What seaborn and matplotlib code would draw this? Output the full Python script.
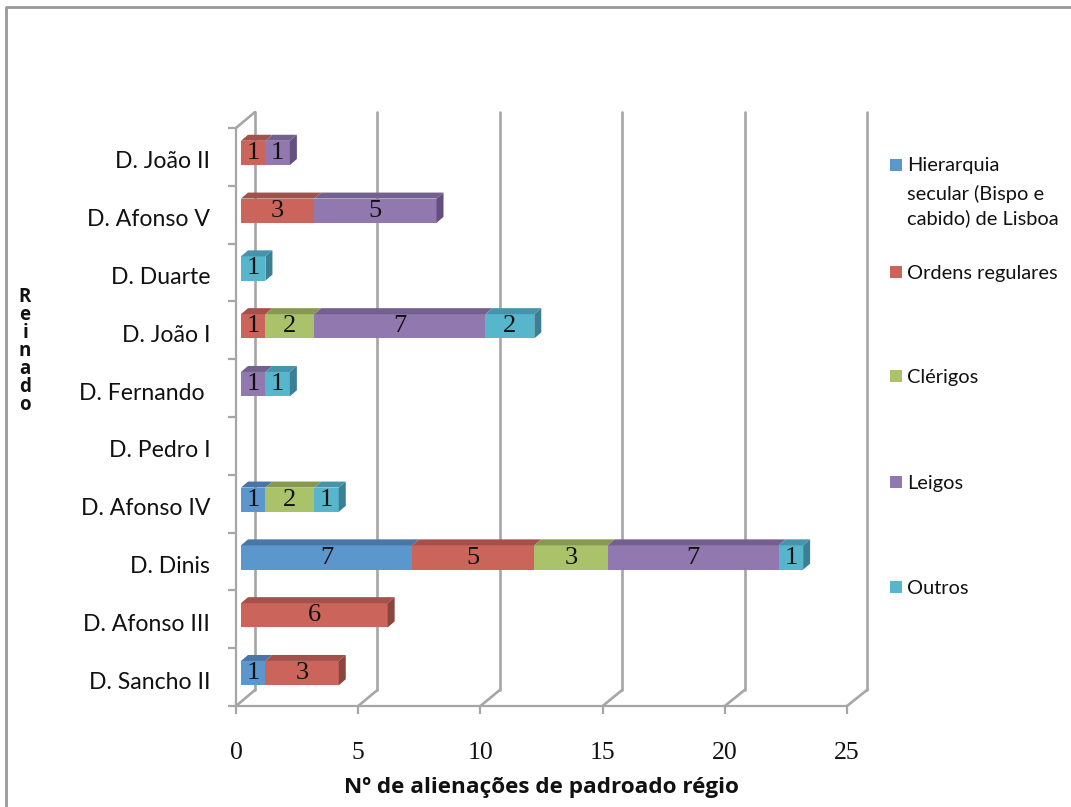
import numpy as np
import pandas as pd
import matplotlib
matplotlib.use("Agg")
import matplotlib.pyplot as plt
import seaborn as sns
from matplotlib.lines import Line2D
from matplotlib.patches import ConnectionPatch, Rectangle
from matplotlib.transforms import ScaledTranslation

reinados = ["D. João II", "D. Afonso V", "D. Duarte", "D. João I", "D. Fernando ",
            "D. Pedro I", "D. Afonso IV", "D. Dinis", "D. Afonso III", "D. Sancho II"]
hierarquia = [0, 0, 0, 0, 0, 0, 1, 7, 0, 1]
ordens = [1, 3, 0, 1, 0, 0, 0, 5, 6, 3]
clerigos = [0, 0, 0, 2, 0, 0, 2, 3, 0, 0]
leigos = [1, 5, 0, 7, 1, 0, 0, 7, 0, 0]
outros = [0, 0, 1, 2, 1, 0, 1, 1, 0, 0]
x_ticks = [0, 5, 10, 15, 20, 25]

series_names = ["Hierarquia\nsecular (Bispo e\ncabido) de Lisboa", "Ordens regulares",
                "Clérigos", "Leigos", "Outros"]
series_values = [hierarquia, ordens, clerigos, leigos, outros]
colors = ["#5b96cc", "#cb655c", "#aac26a", "#9178ae", "#58b6cc"]
top_colors = ["#4a76a6", "#a5504a", "#87994f", "#74608f", "#4594ab"]
side_colors = ["#3d6288", "#8c443e", "#70803f", "#635080", "#3a8094"]

W, H = 1071, 807
GREY = "#a6a6a6"
SANS = "Lato"
SERIF = "Liberation Serif"


def axes_px(fig, left, top, right, bottom):
    # axes from pixel box, y counted from top of the image
    return fig.add_axes([left / W, 1 - bottom / H, (right - left) / W, (bottom - top) / H])


sns.set_theme(style="white")
fig = plt.figure(figsize=(W / 100, H / 100), dpi=100, facecolor="white")

# back wall with the vertical gridlines
back = axes_px(fig, 255, 112, 867, 690)
back.set_xlim(0, 25)
back.set_ylim(9.5, -0.5)
back.set_xticks(x_ticks)
back.set_yticks([])
back.tick_params(labelbottom=False, length=0)
back.grid(axis="x", color=GREY, lw=1.9)
for gl in back.get_xgridlines():
    gl.set_clip_on(False)
back.patch.set_alpha(0)
sns.despine(ax=back, left=True, bottom=True)

# front plane, carries the axes and the labels
front = axes_px(fig, 236, 128, 847, 706)
front.set_xlim(0, 25)
front.set_ylim(9.5, -0.5)
front.patch.set_alpha(0)
sns.despine(ax=front)
for s in ["left", "bottom"]:
    front.spines[s].set_color(GREY)
    front.spines[s].set_linewidth(1.6)
front.set_xticks(x_ticks)
front.set_xticklabels([str(t) for t in x_ticks], family=SERIF, fontsize=18.5, color="#111111")
front.set_yticks(np.arange(-0.5, 10))
front.set_yticklabels([])
front.set_yticks(np.arange(10), labels=reinados, minor=True, family=SANS, fontsize=16.6,
                 color="#111111")
front.tick_params(axis="both", which="major", length=5.8, width=1.6, color=GREY, bottom=True,
                  left=True)
front.tick_params(axis="x", pad=20)
front.tick_params(axis="y", which="minor", length=0, pad=18.5)
shift = ScaledTranslation(0, -3 / 100, fig.dpi_scale_trans)
for lab in front.get_yticklabels(minor=True):
    lab.set_transform(lab.get_transform() + shift)
front.set_xlabel("Nº de alienações de padroado régio", family="Open Sans", fontweight="bold",
                 fontsize=16.2, color="#111111")
front.xaxis.set_label_coords((541 - 236) / 611, -(787 - 706) / 578, transform=front.transAxes)
front.xaxis.label.set_verticalalignment("center")
fig.text(25 / W, 1 - 351 / H, "\n".join("Reinado"), family="Open Sans", fontweight="bold",
         fontsize=13.5, ha="center", va="center", linespacing=0.87, color="#111111")

# joins between front plane and back wall
for t in x_ticks:
    fig.add_artist(ConnectionPatch((t, 9.5), (t, 9.5), coordsA=front.transData,
                                   coordsB=back.transData, color=GREY, lw=1.9))
fig.add_artist(ConnectionPatch((0, -0.5), (0, -0.5), coordsA=front.transData,
                               coordsB=back.transData, color=GREY, lw=1.9))

# the bars, slightly inside the box
bars = axes_px(fig, 241, 124, 852, 702)
bars.patch.set_alpha(0)
bars.set_axis_off()
df = pd.DataFrame({"reinado": reinados})
left = np.zeros(len(reinados))
for name, vals, col in zip(series_names, series_values, colors):
    df["valor"] = vals
    sns.barplot(data=df, x="valor", y="reinado", order=reinados, color=col, saturation=1,
                width=0.42, left=left, ax=bars, orient="y", linewidth=0)
    left = left + np.array(vals)
bars.set_xlim(0, 25)
bars.set_ylim(9.5, -0.5)
bars.set_axis_off()

# fake 3D depth on top of each bar, taken from the drawn bars
dx = 7 / (611 / 25)
dy = 6 / (578 / 10)
totals = left
for cont, vals, top_c, side_c in zip(bars.containers, series_values, top_colors, side_colors):
    bars.bar_label(cont, labels=[str(v) if v else "" for v in vals], label_type="center",
                   family=SERIF, fontsize=19, color="#111111", zorder=6)
    for rect in cont:
        x, y, w, h = rect.get_x(), rect.get_y(), rect.get_width(), rect.get_height()
        if w == 0:
            continue
        bars.fill([x, x + w, x + w + dx, x + dx], [y, y, y - dy, y - dy], color=top_c, lw=0, zorder=2)
        row = int(round(y + h / 2))
        if x + w == totals[row]:
            bars.fill([x + w, x + w + dx, x + w + dx, x + w], [y, y - dy, y + h - dy, y + h],
                      color=side_c, lw=0, zorder=2)
bars.set_xlim(0, 25)
bars.set_ylim(9.5, -0.5)

# legend as Excel spaced it: one square per series, uneven gaps
legend_y = [166, 273, 377, 483, 588]
for name, col, ly in zip(series_names, colors, legend_y):
    fig.add_artist(Rectangle((890 / W, 1 - (ly + 5) / H), 12 / W, 12 / H, color=col, lw=0,
                             transform=fig.transFigure))
    parts = name.split("\n")
    fig.text(907 / W, 1 - ly / H, parts[0], family=SANS, fontsize=14.4, va="center", color="#111111")
    if len(parts) > 1:
        fig.text(907 / W, 1 - 194 / H, parts[1], family=SANS, fontsize=14.4, va="center", color="#111111")
        fig.text(907 / W, 1 - 218 / H, parts[2], family=SANS, fontsize=14.4, va="center", color="#111111")

# outer chart border, cut off on the right and bottom
fig.add_artist(Line2D([6 / W, 6 / W, 1], [0, 1 - 7 / H, 1 - 7 / H], color="#999999", lw=2))

fig.savefig("out.png", dpi=100)
